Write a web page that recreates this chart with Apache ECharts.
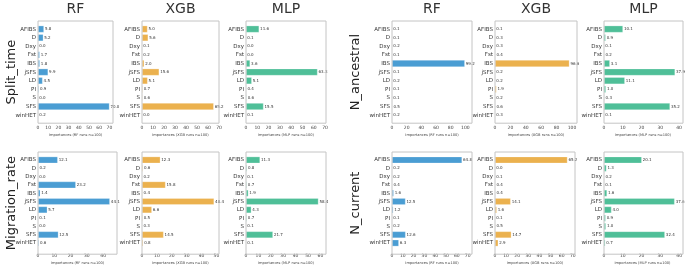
<!DOCTYPE html>
<html>
<head>
<meta charset="utf-8">
<script src="https://cdn.jsdelivr.net/npm/echarts@6/dist/echarts.min.js"></script>
<style>
  html, body { margin: 0; padding: 0; background: #fff; }
  #chart { width: 685px; height: 266px; }
</style>
</head>
<body>
<div id="chart"></div>
<script>
const features = ['AFIBS', 'D', 'Dxy', 'Fst', 'IBS', 'jSFS', 'LD', 'PI', 'S', 'SFS', 'winHET'];
const models = ['RF', 'XGB', 'MLP'];
const targets = ['Split_time', 'Migration_rate', 'N_ancestral', 'N_current'];

// importances (%), same order as features
const splitTimeRF = [5.8, 5.2, 0.0, 1.7, 1.8, 9.9, 4.5, 0.9, 0.0, 70.0, 0.2];
const splitTimeXGB = [5.0, 5.6, 0.1, 0.2, 2.0, 15.6, 5.1, 0.7, 0.6, 65.2, 0.0];
const splitTimeMLP = [11.6, 0.1, 0.0, 0.0, 3.6, 63.3, 5.1, 0.4, 0.6, 15.5, 0.1];
const migrationRF = [12.1, 0.2, 0.0, 23.2, 1.4, 44.1, 5.7, 0.1, 0.0, 12.5, 0.6];
const migrationXGB = [12.3, 0.6, 0.2, 15.8, 0.4, 48.4, 6.6, 0.5, 0.3, 14.5, 0.8];
const migrationMLP = [11.3, 0.8, 0.1, 0.7, 1.9, 58.4, 4.3, 0.7, 0.1, 21.7, 0.1];
const ancestralRF = [0.1, 0.1, 0.2, 0.1, 99.2, 0.1, 0.2, 0.1, 0.1, 0.5, 0.2];
const ancestralXGB = [0.1, 0.3, 0.3, 0.4, 96.6, 0.2, 0.2, 1.9, 0.2, 0.6, 0.3];
const ancestralMLP = [10.1, 0.9, 0.1, 0.2, 3.1, 37.9, 11.1, 1.0, 0.3, 35.2, 0.1];
const currentRF = [64.8, 0.2, 0.2, 0.4, 1.6, 12.5, 1.2, 0.1, 0.2, 12.6, 6.3];
const currentXGB = [65.2, 0.0, 0.1, 0.4, 0.4, 14.1, 1.6, 0.1, 0.5, 14.7, 2.9];
const currentMLP = [20.1, 1.3, 0.2, 0.1, 1.6, 37.6, 4.0, 0.9, 1.0, 32.4, 0.7];

// x axis range per panel [max, tick interval]
const splitTimeAxis = [[73.5, 10], [70, 10], [70.8, 10]];
const migrationAxis = [[48.5, 10], [51.7, 10], [64.5, 10]];
const ancestralAxis = [[109, 20], [106.5, 20], [41.6, 10]];
const currentAxis = [[74, 10], [72, 10], [41, 10]];

const importances = [
  [splitTimeRF, splitTimeXGB, splitTimeMLP],
  [migrationRF, migrationXGB, migrationMLP],
  [ancestralRF, ancestralXGB, ancestralMLP],
  [currentRF, currentXGB, currentMLP]
];
const axes = [splitTimeAxis, migrationAxis, ancestralAxis, currentAxis];

const colors = ['#4a9dd3', '#ebb14e', '#4fbf98'];
const font = 'DejaVu Sans';

// panel frames: [left, right] in px, top of frame per target
const frames = [
  [[38, 113], [142, 219], [246, 326]],
  [[38, 117], [142, 219], [246, 326]],
  [[392, 472], [495, 577], [604, 683]],
  [[392, 472], [495, 575], [604, 683]]
];
const frameTop = [21, 152, 21, 152];
const pad = 3.8;      // matplotlib y margin
const band = 8.6;     // px per category
const frameH = pad * 2 + band * features.length;

const chart = echarts.init(document.getElementById('chart'));

const grid = [], xAxis = [], yAxis = [], series = [], graphic = [];

targets.forEach((t, ti) => {
  models.forEach((m, mi) => {
    const idx = ti * 3 + mi;
    const [x0, x1] = frames[ti][mi];
    const [max, interval] = axes[ti][mi];
    grid.push({
      left: x0,
      top: frameTop[ti] + pad,
      width: x1 - x0,
      height: band * features.length
    });
    xAxis.push({
      gridIndex: idx,
      type: 'value',
      min: 0,
      max: max,
      interval: interval,
      splitLine: { show: false },
      axisLine: { show: false },
      axisTick: { show: false },
      axisLabel: {
        fontSize: 4.5,
        color: '#444',
        fontFamily: font,
        margin: pad + 2,
        formatter: v => (Math.abs(v / interval - Math.round(v / interval)) < 1e-6 ? String(v) : '')
      },
      name: 'Importances (' + m + ' runs n=100)',
      nameLocation: 'middle',
      nameGap: pad + 10,
      nameTextStyle: { fontSize: 3.6, color: '#444', fontFamily: font }
    });
    yAxis.push({
      gridIndex: idx,
      type: 'category',
      data: features,
      inverse: true,
      axisLine: { show: false },
      axisTick: { show: false },
      axisLabel: { fontSize: 5.5, color: '#333', fontFamily: font, margin: 2 }
    });
    series.push({
      type: 'bar',
      xAxisIndex: idx,
      yAxisIndex: idx,
      data: importances[ti][mi],
      barWidth: '80%',
      itemStyle: { color: colors[mi], borderColor: 'rgba(255,255,255,0.5)', borderWidth: 0.5 },
      label: {
        show: true,
        position: 'right',
        distance: 1,
        fontSize: 4,
        color: '#333',
        fontFamily: font,
        formatter: p => p.value.toFixed(1)
      },
      silent: true
    });
    graphic.push({
      type: 'rect',
      shape: { x: x0, y: frameTop[ti], width: x1 - x0, height: frameH },
      style: { fill: 'none', stroke: '#c4c4c4', lineWidth: 1 },
      silent: true,
      z: 10
    });
    if (ti === 0 || ti === 2) {
      graphic.push({
        type: 'text',
        x: (x0 + x1) / 2,
        y: 9,
        style: {
          text: m,
          font: '14px "' + font + '"',
          fill: '#333',
          align: 'center',
          verticalAlign: 'middle'
        }
      });
    }
  });
  const labelX = ti < 2 ? 12 : 356;
  graphic.push({
    type: 'text',
    x: labelX,
    y: frameTop[ti] + frameH / 2,
    rotation: Math.PI / 2,
    style: {
      text: t,
      font: '13px "' + font + '"',
      fill: '#222',
      align: 'center',
      verticalAlign: 'middle'
    }
  });
});

chart.setOption({
  animation: false,
  grid: grid,
  xAxis: xAxis,
  yAxis: yAxis,
  series: series,
  graphic: graphic
});
</script>
</body>
</html>
